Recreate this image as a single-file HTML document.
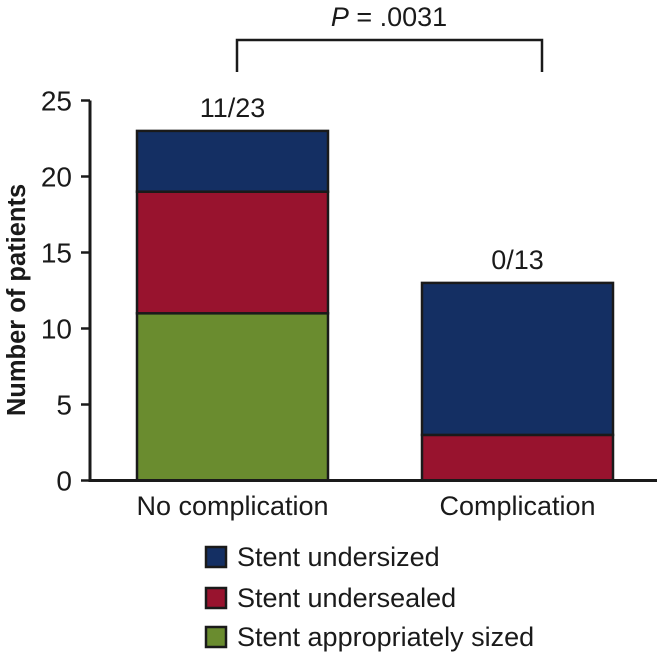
<!DOCTYPE html>
<html><head><meta charset="utf-8"><style>
body{margin:0;background:#fff;}
svg text{font-family:"Liberation Sans",Arial,sans-serif;fill:#1a1a1a;}
</style></head><body>
<svg id="chart" width="657" height="654" viewBox="0 0 657 654" xmlns="http://www.w3.org/2000/svg">
<g id="marks"></g>
<g id="axes"></g>
</svg>
<script>
const categories = ["No complication", "Complication"];
const appropriate = [11, 0];
const undersealed = [8, 3];
const undersized = [4, 10];
const topLabels = ["11/23", "0/13"];
const yTicks = [0, 5, 10, 15, 20, 25];
const seriesNames = ["Stent undersized", "Stent undersealed", "Stent appropriately sized"];

const NS = "http://www.w3.org/2000/svg";
const y0 = 480.5, yScale = 15.2;
function yPos(v){ return y0 - v * yScale; }
const barLeft = [137, 422], barW = 191;
function xPos(i){ return barLeft[i]; }
const colors = {undersized:"#142f63", undersealed:"#98132e", appropriate:"#6a8c2f"};
function mk(tag, attrs, parent, text){
  const e = document.createElementNS(NS, tag);
  for (const k in attrs) e.setAttribute(k, attrs[k]);
  if (text !== undefined) e.textContent = text;
  parent.appendChild(e);
  return e;
}
const marks = document.getElementById("marks");
const axes = document.getElementById("axes");

categories.forEach((c, i) => {
  const stack = [["appropriate", appropriate[i]], ["undersealed", undersealed[i]], ["undersized", undersized[i]]];
  let base = 0;
  stack.forEach(([key, v]) => {
    if (v > 0) {
      const r = mk("rect", {x: xPos(i), y: yPos(base + v), width: barW, height: yPos(base) - yPos(base + v), fill: colors[key], stroke: "#1a1a1a", "stroke-width": 2.5}, marks);
      
      
    }
    base += v;
  });
  const t = mk("text", {x: xPos(i) + barW / 2, y: yPos(base) - 14, "text-anchor": "middle", "font-size": 27}, marks, topLabels[i]);
  
  
  const cl = mk("text", {x: xPos(i) + barW / 2, y: 515, "text-anchor": "middle", "font-size": 27}, axes, c);
  
  
});

const yl = mk("line", {x1: 90, y1: yPos(25), x2: 90, y2: y0 + 1.5, stroke: "#1a1a1a", "stroke-width": 3}, axes);


const xl = mk("line", {x1: 88.5, y1: y0, x2: 657, y2: y0, stroke: "#1a1a1a", "stroke-width": 3}, axes);


yTicks.forEach(v => {
  const tk = mk("line", {x1: 81, y1: yPos(v), x2: 90, y2: yPos(v), stroke: "#1a1a1a", "stroke-width": 2.5}, axes);
  
  
  const tl = mk("text", {x: 72, y: yPos(v) + 10, "text-anchor": "end", "font-size": 28}, axes, String(v));
  
  
});
const yt = mk("text", {x: 0, y: 0, transform: "translate(25,300) rotate(-90)", "text-anchor": "middle", "font-size": 25.5, "font-weight": "bold"}, axes, "Number of patients");



const br = mk("polyline", {points: "237,72 237,40 542,40 542,72", fill: "none", stroke: "#1a1a1a", "stroke-width": 2.5}, axes);


const pt = mk("text", {x: 389, y: 26, "text-anchor": "middle", "font-size": 27}, axes);


mk("tspan", {"font-style": "italic"}, pt, "P");
mk("tspan", {}, pt, " = .0031");

const legendKeys = ["undersized", "undersealed", "appropriate"];
const legendY = [557, 598, 637];
seriesNames.forEach((n, i) => {
  const g = mk("g", {}, axes);
  
  
  mk("rect", {x: 206, y: legendY[i] - 10, width: 20, height: 20, fill: colors[legendKeys[i]], stroke: "#1a1a1a", "stroke-width": 2.5}, g);
  mk("text", {x: 237, y: legendY[i] + 9, "font-size": 27}, g, n);
});
</script>
</body></html>
